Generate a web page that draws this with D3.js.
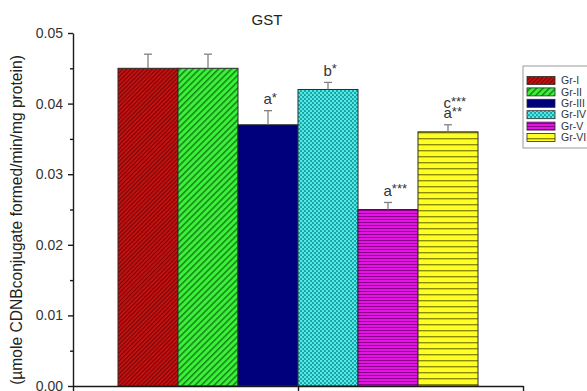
<!DOCTYPE html>
<html>
<head>
<meta charset="utf-8">
<script src="https://cdn.jsdelivr.net/npm/d3@7"></script>
<style>
  html, body { margin: 0; padding: 0; background: #fff; }
  svg { display: block; font-family: "Liberation Sans", Arial, sans-serif; }
</style>
</head>
<body>
<svg id="chart" width="587" height="391"></svg>
<script>
// GST activity per group
const groups = ["Gr-I", "Gr-II", "Gr-III", "Gr-IV", "Gr-V", "Gr-VI"];
const means  = [0.045, 0.045, 0.037, 0.042, 0.025, 0.036];
const errors = [0.002, 0.002, 0.002, 0.001, 0.001, 0.001];
// significance marks above each bar, bottom line first
const marks  = [[], [], ["a*"], ["b*"], ["a***"], ["a**", "c***"]];
const yTicks = [0, 0.01, 0.02, 0.03, 0.04, 0.05];
const yMinorTicks = [0.005, 0.015, 0.025, 0.035, 0.045];
const xTicks = [0, 1, 2];

const svg = d3.select("#chart");
svg.append("rect").attr("width", 587).attr("height", 391).attr("fill", "#fff");

// fill patterns
const defs = svg.append("defs");
function stripes(id, size, base, ink, lw, angle) {
  const p = defs.append("pattern").attr("id", id)
    .attr("patternUnits", "userSpaceOnUse")
    .attr("width", size).attr("height", size);
  if (angle) p.attr("patternTransform", `rotate(${angle})`);
  p.append("rect").attr("width", size).attr("height", size).attr("fill", base);
  if (angle) {
    p.append("rect").attr("x", 0).attr("y", 0).attr("width", lw).attr("height", size).attr("fill", ink);
  } else {
    p.append("rect").attr("x", 0).attr("y", 0).attr("width", size).attr("height", lw).attr("fill", ink);
  }
}
stripes("f0", 3, "#c41212", "#7c0404", 1.1, 45);
stripes("f1", 4.5, "#3cf03c", "#168a16", 1.6, 45);
stripes("f4", 3, "#e414e4", "#8a008a", 1, 0);
stripes("f5", 6, "#ffff26", "#8c8c00", 1.4, 0);
{
  const p = defs.append("pattern").attr("id", "f3")
    .attr("patternUnits", "userSpaceOnUse").attr("width", 4).attr("height", 4);
  p.append("rect").attr("width", 4).attr("height", 4).attr("fill", "#1a9e9e");
  p.append("circle").attr("cx", 1).attr("cy", 1).attr("r", 1.25).attr("fill", "#52ecec");
  p.append("circle").attr("cx", 3).attr("cy", 3).attr("r", 1.25).attr("fill", "#52ecec");
}
const fills = ["url(#f0)", "url(#f1)", "#00007c", "url(#f3)", "url(#f4)", "url(#f5)"];

// scales
const x = d3.scaleLinear().domain([0, 2]).range([73, 523]);
const y = d3.scaleLinear().domain([0, 0.05]).range([386, 33]);
const band = d3.scaleBand().domain(groups).range([x(1 - 0.8), x(1 + 0.8)]).padding(0);

// bars
svg.append("g").selectAll("rect").data(groups).join("rect")
  .attr("x", d => band(d))
  .attr("y", (d, i) => y(means[i]))
  .attr("width", band.bandwidth())
  .attr("height", (d, i) => y(0) - y(means[i]))
  .attr("fill", (d, i) => fills[i])
  .attr("stroke", "#2a2a2a").attr("stroke-width", 1);

// error bars (upper half only)
const eb = svg.append("g").attr("stroke", "#808080").attr("stroke-width", 1.3).attr("fill", "none");
groups.forEach((g, i) => {
  const cx = band(g) + band.bandwidth() / 2;
  eb.append("line").attr("x1", cx).attr("x2", cx).attr("y1", y(means[i])).attr("y2", y(means[i] + errors[i]));
  eb.append("line").attr("x1", cx - 4).attr("x2", cx + 4).attr("y1", y(means[i] + errors[i])).attr("y2", y(means[i] + errors[i]));
});

// significance letters with raised asterisks
const ann = svg.append("g").attr("fill", "#333");
groups.forEach((g, i) => {
  const cx = band(g) + band.bandwidth() / 2;
  marks[i].forEach((m, k) => {
    const letter = m.replace(/\*/g, "");
    const stars = m.slice(letter.length);
    const t = ann.append("text")
      .attr("x", cx - 4.5).attr("y", y(means[i] + errors[i]) - 6.5 - k * 10)
      .attr("font-size", 15);
    t.append("tspan").text(letter);
    t.append("tspan").attr("dy", -2.5).attr("font-size", 13).text(stars);
  });
});

// axes
const yAxis = d3.axisLeft(y).tickValues(yTicks).tickFormat(d3.format(".2f")).tickSize(5).tickSizeOuter(0).tickPadding(5);
const gy = svg.append("g").attr("transform", "translate(73,0)").call(yAxis);
gy.selectAll("text").attr("font-size", 14).attr("fill", "#333")
  .attr("font-family", "'Liberation Sans', Arial, sans-serif");
gy.selectAll("line, path").attr("stroke", "#1a1a1a").attr("stroke-width", 1.4);
const yMinor = d3.axisLeft(y).tickValues(yMinorTicks).tickFormat("").tickSize(3).tickSizeOuter(0);
svg.append("g").attr("transform", "translate(73,0)").call(yMinor)
  .call(g => g.select(".domain").remove())
  .selectAll("line").attr("stroke", "#1a1a1a").attr("stroke-width", 1.4);

const xAxis = d3.axisBottom(x).tickValues(xTicks).tickFormat("").tickSize(6).tickSizeOuter(0);
svg.append("g").attr("transform", "translate(0,386)").call(xAxis)
  .selectAll("line, path").attr("stroke", "#1a1a1a").attr("stroke-width", 1.4);

// title and axis label
svg.append("text").attr("x", 267).attr("y", 25).attr("text-anchor", "middle")
  .attr("font-size", 15).attr("fill", "#222").text("GST");
svg.append("text")
  .attr("transform", "translate(22,220) rotate(-90)")
  .attr("text-anchor", "middle").attr("font-size", 15.6).attr("fill", "#222")
  .text("(µmole CDNBconjugate formed/min/mg protein)");

// legend
const lg = svg.append("g");
lg.append("rect").attr("x", 523).attr("y", 66).attr("width", 80).attr("height", 82)
  .attr("fill", "#fff").attr("stroke", "#999").attr("stroke-width", 1);
groups.forEach((g, i) => {
  const cy = 80.5 + i * 11.4;
  lg.append("rect").attr("x", 527).attr("y", cy - 4).attr("width", 28).attr("height", 8)
    .attr("fill", fills[i]).attr("stroke", "#2a2a2a").attr("stroke-width", 0.8);
  lg.append("text").attr("x", 561).attr("y", cy + 3.6).attr("font-size", 10.5).attr("fill", "#333").text(g);
});
</script>
</body>
</html>
